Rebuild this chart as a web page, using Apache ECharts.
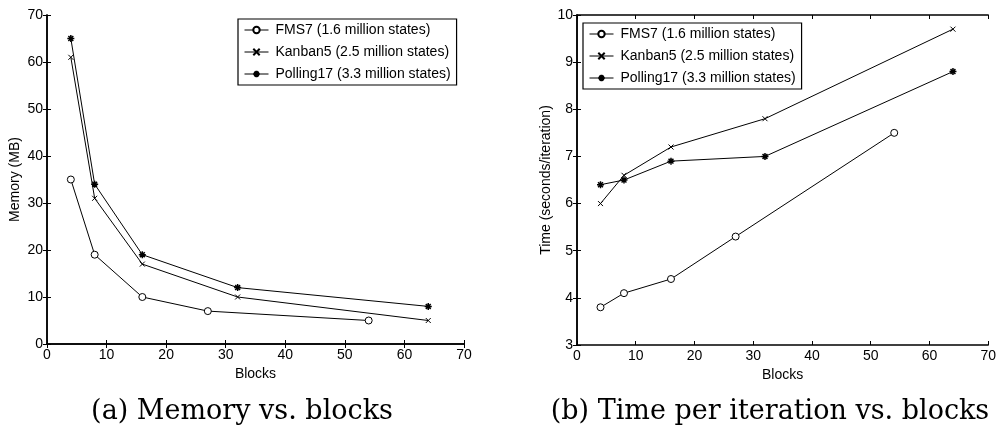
<!DOCTYPE html>
<html>
<head>
<meta charset="utf-8">
<script src="https://cdn.jsdelivr.net/npm/echarts@6/dist/echarts.min.js"></script>
<style>
  html, body { margin: 0; padding: 0; background: #fff; }
  #chart { width: 999px; height: 431px; }
</style>
</head>
<body>
<div id="chart"></div>
<script>
// data
const fmsBlocks = [4, 8, 16, 27, 54]
const otherBlocks = [4, 8, 16, 32, 64]

const fmsMemory = [35, 19, 10, 7, 5]
const kanbanMemory = [61, 31, 17, 10, 5]
const pollingMemory = [65, 34, 19, 12, 8]

const fmsTime = [3.8, 4.1, 4.4, 5.3, 7.5]
const kanbanTime = [6.0, 6.6, 7.2, 7.8, 9.7]
const pollingTime = [6.4, 6.5, 6.9, 7.0, 8.8]

const names = ['FMS7 (1.6 million states)', 'Kanban5 (2.5 million states)', 'Polling17 (3.3 million states)']

const crossPath = 'path://M0,0L10,10M0,10L10,0'
const starPath = 'path://M5,0L5,10M0,5L10,5M1.5,1.5L8.5,8.5M8.5,1.5L1.5,8.5'

const font = 'Liberation Sans, Arial, sans-serif'

const zip = (xs, ys) => xs.map((x, i) => [x, ys[i]])

function lineSeries(name, data, idx, kind) {
  let symbol = 'circle', size = 7, border = 1, fill = '#fff'
  if (kind === 1) { symbol = crossPath; size = 5; border = 1; fill = '#000' }
  if (kind === 2) { symbol = starPath; size = 7; border = 1.5; fill = '#000' }
  return {
    name: name,
    type: 'line',
    xAxisIndex: idx,
    yAxisIndex: idx,
    data: data,
    symbol: symbol,
    symbolSize: size,
    showAllSymbol: true,
    animation: false,
    lineStyle: { color: '#000', width: 1 },
    itemStyle: { color: fill, borderColor: '#000', borderWidth: border }
  }
}

function xAxisDef(idx, pos) {
  const main = pos === 'bottom'
  return {
    type: 'value', gridIndex: idx, position: pos,
    min: 0, max: 70, interval: 10,
    name: main ? 'Blocks' : '', nameLocation: 'middle', nameGap: 23,
    nameTextStyle: { color: '#000', fontFamily: font, fontSize: 14 },
    axisLine: { show: true, lineStyle: { color: '#000', width: 1.5 } },
    axisTick: { show: true, inside: true, length: 4, lineStyle: { color: '#000' } },
    axisLabel: { show: main, color: '#000', fontFamily: font, fontSize: 14, margin: 4 },
    splitLine: { show: false }
  }
}

function yAxisDef(idx, pos, min, max, step, name, gap) {
  const main = pos === 'left'
  return {
    type: 'value', gridIndex: idx, position: pos,
    min: min, max: max, interval: step,
    name: main ? name : '', nameLocation: 'middle', nameGap: gap,
    nameTextStyle: { color: '#000', fontFamily: font, fontSize: 14 },
    axisLine: { show: true, lineStyle: { color: '#000', width: 1.5 } },
    axisTick: { show: true, inside: true, length: 4, lineStyle: { color: '#000' } },
    axisLabel: { show: main, color: '#000', fontFamily: font, fontSize: 14, margin: 4 },
    splitLine: { show: false }
  }
}

function legendDef(left, top) {
  return {
    data: names,
    orient: 'vertical',
    left: left, top: top,
    backgroundColor: '#fff',
    borderColor: '#000', borderWidth: 1.2,
    borderRadius: 0,
    padding: [4, 6, 4, 6],
    itemGap: 8,
    itemWidth: 24, itemHeight: 8,
    lineStyle: { width: 1 },
    textStyle: { color: '#000', fontFamily: font, fontSize: 14, padding: [0, 0, 0, 2] },
    selectedMode: false
  }
}

const myChart = echarts.init(document.querySelector('#chart'))
const option = {
  backgroundColor: '#fff',
  animation: false,
  grid: [
    { left: 47, top: 15, width: 417, height: 329 },
    { left: 577, top: 15, width: 416, height: 330 }
  ],
  legend: [legendDef(238, 19), legendDef(583, 23)],
  xAxis: [xAxisDef(0, 'bottom'), xAxisDef(1, 'bottom'), xAxisDef(0, 'top'), xAxisDef(1, 'top')],
  yAxis: [
    yAxisDef(0, 'left', 0, 70, 10, 'Memory (MB)', 25),
    yAxisDef(1, 'left', 3, 10, 1, 'Time (seconds/iteration)', 23),
    yAxisDef(0, 'right', 0, 70, 10, '', 0),
    yAxisDef(1, 'right', 3, 10, 1, '', 0)
  ],
  series: [
    lineSeries(names[0], zip(fmsBlocks, fmsMemory), 0, 0),
    lineSeries(names[1], zip(otherBlocks, kanbanMemory), 0, 1),
    lineSeries(names[2], zip(otherBlocks, pollingMemory), 0, 2),
    lineSeries(names[0], zip(fmsBlocks, fmsTime), 1, 0),
    lineSeries(names[1], zip(otherBlocks, kanbanTime), 1, 1),
    lineSeries(names[2], zip(otherBlocks, pollingTime), 1, 2)
  ],
  graphic: [
    {
      type: 'text', x: 242, y: 412,
      style: { text: '(a) Memory vs. blocks', fill: '#000', font: '27px "DejaVu Serif", serif', align: 'center', verticalAlign: 'middle' }
    },
    {
      type: 'text', x: 770, y: 412,
      style: { text: '(b) Time per iteration vs. blocks', fill: '#000', font: '27px "DejaVu Serif", serif', align: 'center', verticalAlign: 'middle' }
    }
  ]
}
myChart.setOption(option)
</script>
</body>
</html>
